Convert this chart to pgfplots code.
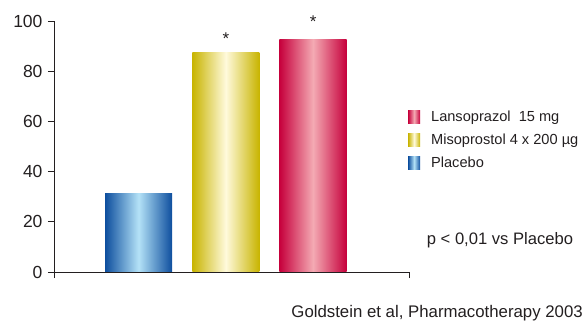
\documentclass[border=0pt]{standalone}
\usepackage{pgfplots}
\pgfplotsset{compat=1.18}
\usepackage{fontspec}
\setmainfont{Liberation Sans}
\definecolor{blueE}{HTML}{0D4E9E}
\definecolor{blueC}{HTML}{B4E2F7}
\definecolor{yelE}{HTML}{C8B400}
\definecolor{yelC}{HTML}{FFFADC}
\definecolor{redE}{HTML}{C6003C}
\definecolor{redC}{HTML}{F4AAB3}
\definecolor{txt}{HTML}{231F20}
\begin{document}
\begin{tikzpicture}
\useasboundingbox (-54pt,-51pt) rectangle (531pt,272pt);
\begin{axis}[
  scale only axis,
  width=355pt, height=251pt,
  at={(0,0)}, anchor=south west,
  xmin=0.03, xmax=4.1, ymin=0, ymax=100,
  axis x line*=bottom, axis y line*=left,
  axis line style={txt, line width=0.8pt},
  xtick={0.03,4.1}, xticklabels={},
  ytick={0,20,...,100},
  tick align=outside, major tick length=6pt,
  tick style={txt, line width=0.8pt},
  /pgf/number format/assume math mode=true,
  yticklabel style={font=\fontsize{17.5}{20}\selectfont, text=txt, xshift=-2pt},
  clip=false,
  reverse legend,
  legend cell align=left,
  legend style={draw=none, fill=none, at={(rel axis cs:0.997,0.648)}, anchor=north west,
    font=\fontsize{14.6}{17}\selectfont, text=txt, row sep=9pt, inner sep=0pt,
    nodes={inner sep=1pt},
    /tikz/every odd column/.append style={column sep=10pt}},
  legend image code/.code={\path[draw=none] (0pt,-6.5pt) rectangle (12pt,6.5pt);},
]
\addplot[ybar, bar width=0.77, bar shift=0pt, draw=none, left color=blueE, right color=blueE, middle color=blueC] coordinates {(1,31.1)};
\addlegendentry{Placebo}
\addplot[ybar, bar width=0.77, bar shift=0pt, draw=none, left color=yelE, right color=yelE, middle color=yelC] coordinates {(2,87.3)};
\addlegendentry{Misoprostol 4 x 200 µg}
\addplot[ybar, bar width=0.77, bar shift=0pt, draw=none, left color=redE, right color=redE, middle color=redC] coordinates {(3,92.8)};
\addlegendentry{Lansoprazol\ \ 15 mg}
\node[anchor=base, font=\fontsize{17}{20}\selectfont, text=txt] at (axis cs:2,90.6) {*};
\node[anchor=base, font=\fontsize{17}{20}\selectfont, text=txt] at (axis cs:3,97.4) {*};
\end{axis}
\node[font=\fontsize{16.6}{20}\selectfont, text=txt] at (446pt,32pt) {p < 0,01 vs Placebo};
\node[anchor=east, inner sep=0pt, font=\fontsize{16.8}{20}\selectfont, text=txt] at (529pt,-41pt) {Goldstein et al, Pharmacotherapy 2003};
\end{tikzpicture}
\end{document}
